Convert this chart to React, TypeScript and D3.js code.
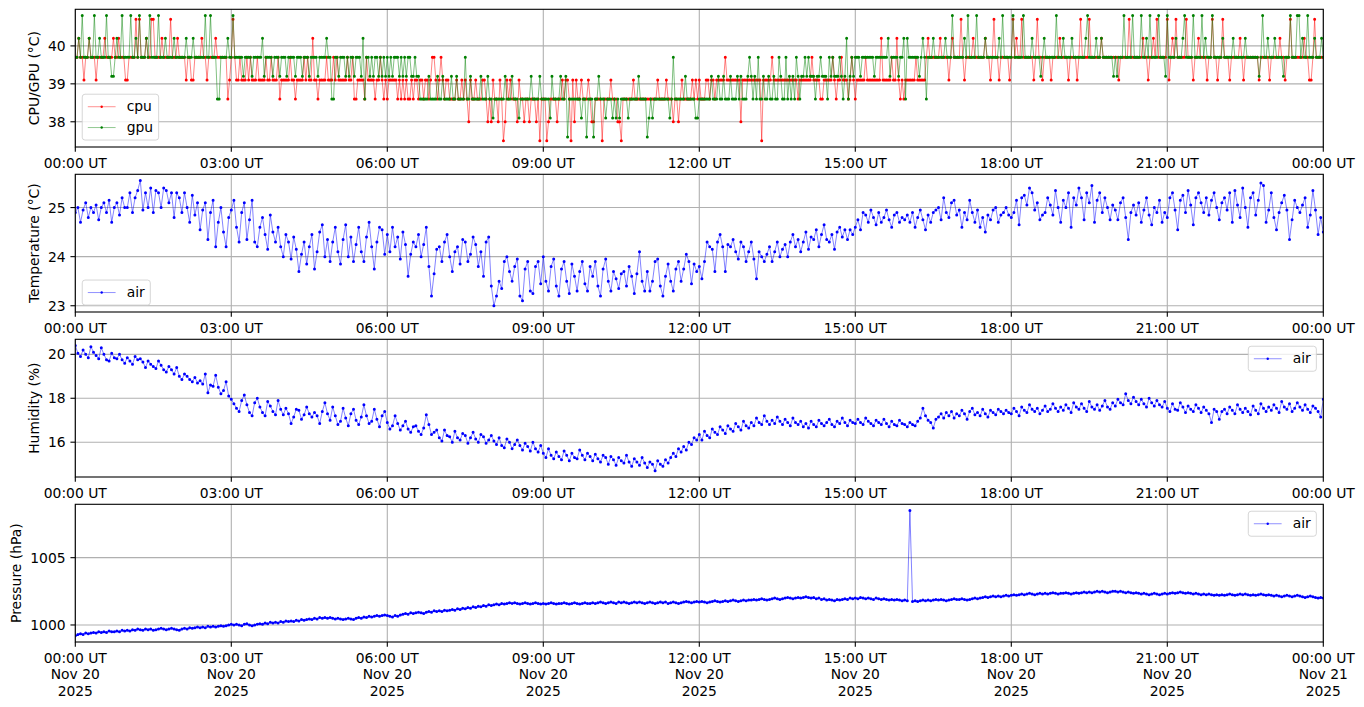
import * as d3 from 'd3';

// ---- data ---------------------------------------------------------------
const DAY_START = Date.UTC(2025, 10, 20);
const DAY_END = Date.UTC(2025, 10, 21);

// quantisation steps of the two sensors as seen on the plot
const cpuLevels = [37.5, 38.0, 38.6, 39.1, 39.7, 40.2, 40.7];
const gpuLevels = [37.6, 38.1, 38.6, 39.2, 39.7, 40.2, 40.8];

// one digit per 2-minute sample (index into the level list), one row per hour
const cpuCodes = [
  '4454434454 4434444544 4454454443',
  '3444464644 4544664444 5444464445',
  '4444344334 4445443444 4544444423',
  '4643343334 3433343333 4334333423',
  '3333433233 3343433533 2333343334',
  '3433333433 4223333243 3332334323',
  '2333332323 2322323323 3233234432',
  '3432332222 3223232132 2322233212',
  '1322132013 2322213221 2212221202',
  '2201222212 2323320313 2232223211',
  '2222022223 2221102222 2232222222',
  '2222223222 2322212212 3222223232',
  '3222332332 3333343333 3333133333',
  '3333330333 3343333333 3333333233',
  '3333343333 2233333432 3343332343',
  '2333334333 3333353333 3433532323',
  '3333343333 3454444445 4444345444',
  '4643444454 4444454434 6443444443',
  '4645446444 4443464434 4443444454',
  '4443444434 6444464444 4454444444',
  '4434444464 4444445443 4454644444',
  '6345464444 4644434454 4443446443',
  '4464443444 4454344444 4443444443',
  '4444454434 4644444445 4433464444',
  '4',
];
const gpuCodes = [
  '4454644454 4644544464 4334544644',
  '4464454644 4546444464 4454444544',
  '4444544454 4444464464 4422444454',
  '4644444344 4434444453 4444344434',
  '4434444344 4344434444 3444454422',
  '4434443434 4344435244 3434434343',
  '4343444343 4344334332 2222322223',
  '2232222322 3222242232 2222322232',
  '2122222232 2232221222 2223222232',
  '2222132222 3223022222 2212202220',
  '2232221222 1212122221 2222232222',
  '0121222222 2221242222 2232222211',
  '2222222322 2322322232 2232322234',
  '3232422322 3223224322 4232324323',
  '3434333233 4333243433 3432352343',
  '4443444444 4344444445 3444434452',
  '5444444345 4244454444 4454446444',
  '4445464444 6444454444 4445464444',
  '4644444644 4454444345 4444446444',
  '5444454444 4445644445 4454444443',
  '4344464444 6444464454 6444464443',
  '6444454445 6444464444 6454446444',
  '4454444454 4444454444 4443464454',
  '4454444344 4644466454 4644454445',
  '4',
];

// 3-minute samples, 20 per hour, plus the 24:00 sample
const airTemp = [
  24.9, 25.0, 24.7, 24.95, 25.1, 24.8, 25.0, 24.9, 25.05, 24.75, 25.0, 25.1, 24.9, 25.15, 24.7, 25.0, 25.1, 24.85, 25.2, 25.0,
  25.0, 25.3, 24.9, 25.2, 25.35, 25.55, 24.95, 25.3, 25.0, 25.4, 24.9, 25.35, 25.3, 25.0, 25.4, 25.35, 25.1, 25.3, 24.8, 25.3,
  25.2, 24.9, 25.3, 25.0, 24.7, 25.25, 24.85, 25.1, 24.55, 24.95, 25.1, 24.35, 24.9, 25.15, 24.2, 24.7, 25.0, 24.5, 24.2, 24.8,
  24.95, 25.15, 24.6, 24.3, 24.9, 25.1, 24.35, 24.75, 25.15, 24.3, 24.2, 24.6, 24.8, 24.45, 24.15, 24.85, 24.5, 24.3, 24.6, 24.2,
  24.0, 24.45, 24.3, 23.95, 24.4, 24.15, 23.7, 24.05, 24.3, 23.85, 24.2, 24.45, 23.75, 24.1, 24.5, 24.65, 24.0, 24.35, 23.9, 24.3,
  24.6, 24.1, 23.85, 24.35, 24.65, 24.0, 24.4, 23.9, 24.25, 24.6, 24.1, 23.9, 24.4, 24.7, 24.2, 23.75, 24.3, 24.6, 24.55, 24.05,
  24.45, 24.1, 24.6, 24.2, 24.4, 23.95, 24.5, 24.25, 23.6, 24.05, 24.3, 24.2, 24.45, 24.0, 24.25, 24.6, 23.8, 23.2, 23.65, 24.15,
  24.2, 23.9, 24.3, 24.45, 24.0, 23.7, 24.1, 24.2, 23.85, 24.35, 24.3, 23.9, 24.05, 24.4, 24.25, 23.8, 24.1, 23.6, 24.3, 24.4,
  23.4, 23.0, 23.2, 23.5, 23.35, 23.9, 24.0, 23.7, 23.5, 23.8, 23.95, 23.2, 23.1, 23.75, 23.9, 23.3, 23.25, 23.8, 23.9, 23.45,
  24.0, 23.5, 23.3, 23.8, 23.95, 23.4, 23.2, 23.75, 23.9, 23.5, 23.25, 23.85, 23.6, 23.3, 23.7, 23.9, 23.45, 23.3, 23.8, 23.6,
  23.9, 23.4, 23.2, 23.75, 23.95, 23.5, 23.3, 23.7, 23.55, 23.35, 23.65, 23.7, 23.4, 23.8, 23.6, 23.25, 23.65, 24.1, 23.5, 23.3,
  23.7, 23.3, 23.5, 23.9, 23.95, 23.4, 23.2, 23.6, 23.85, 23.5, 23.3, 23.75, 23.9, 23.5, 23.75, 24.05, 23.9, 23.45, 23.85, 23.7,
  23.8, 23.55, 23.9, 24.3, 24.2, 24.15, 23.7, 24.3, 24.45, 24.2, 23.7, 24.25, 24.2, 24.35, 24.1, 23.95, 24.3, 24.2, 23.9, 24.1,
  24.3, 23.95, 23.55, 24.1, 24.0, 23.9, 24.05, 24.2, 23.9, 24.1, 24.3, 24.0, 24.15, 24.25, 24.0, 24.3, 24.45, 24.2, 24.35, 24.1,
  24.3, 24.5, 24.15, 24.4, 24.35, 24.55, 24.2, 24.45, 24.65, 24.35, 24.3, 24.45, 24.15, 24.5, 24.6, 24.4, 24.55, 24.35, 24.55, 24.45,
  24.6, 24.75, 24.55, 24.9, 24.85, 24.7, 24.95, 24.8, 24.65, 24.9, 24.7, 24.8, 24.95, 24.75, 24.6, 24.85, 24.9, 24.7, 24.8, 24.75,
  24.85, 24.7, 24.9, 24.6, 24.8, 24.95, 24.75, 24.55, 24.85, 24.7, 24.9, 24.95, 25.0, 24.75, 25.2, 24.9, 24.8, 25.1, 25.15, 24.85,
  24.95, 24.6, 24.9, 24.75, 25.15, 24.9, 24.7, 24.95, 24.6, 24.8, 24.5, 24.85, 24.75, 24.95, 25.0, 24.7, 24.85, 24.9, 25.0, 24.85,
  24.8, 24.9, 25.15, 24.65, 25.2, 25.25, 25.05, 25.4, 25.3, 24.95, 25.1, 24.75, 24.85, 24.9, 25.2, 25.05, 24.85, 25.35, 25.0, 24.7,
  25.15, 25.0, 25.3, 24.6, 25.2, 25.05, 25.4, 25.2, 24.75, 25.3, 25.1, 25.45, 24.7, 25.15, 25.3, 24.9, 25.2, 25.0, 24.75, 25.05,
  24.95, 24.75, 25.1, 25.2, 24.8, 24.35, 24.9, 25.05, 24.85, 25.1, 24.7, 24.95, 25.2, 24.85, 24.65, 25.0, 24.9, 25.15, 24.7, 24.9,
  24.8, 25.2, 25.3, 24.95, 24.55, 25.15, 25.25, 24.9, 25.35, 25.05, 24.65, 25.2, 25.3, 25.1, 24.9, 25.2, 24.85, 25.15, 25.3, 25.0,
  24.75, 25.1, 25.2, 24.95, 25.3, 24.7, 25.35, 25.05, 24.8, 25.4, 25.0, 24.6, 25.2, 25.3, 24.85, 25.15, 25.5, 25.45, 24.7, 24.95,
  25.3, 24.8, 24.55, 24.9, 25.1, 25.25, 24.95, 24.35, 24.75, 25.15, 25.0, 24.9, 25.05, 25.2, 24.6, 24.85, 25.35, 24.95, 24.45, 24.8,
  24.5,
];

const airHumidity = [
  20.4, 20.05, 19.9, 20.2, 20.0, 19.85, 20.35, 20.1, 19.95, 19.8, 20.3, 20.0, 19.75, 19.7, 20.05, 19.85, 19.8, 20.0, 19.75, 19.6,
  19.85, 19.7, 19.55, 19.9, 19.75, 19.8, 19.65, 19.4, 19.7, 19.55, 19.45, 19.35, 19.7, 19.5, 19.3, 19.2, 19.45, 19.3, 19.1, 19.4,
  19.0, 18.85, 19.1, 19.0, 18.85, 18.75, 18.95, 18.7, 18.8, 18.65, 19.1, 18.25, 18.6, 18.55, 19.05, 18.5, 18.2, 18.35, 18.75, 18.1,
  17.95, 17.75, 17.55, 17.4, 17.9, 18.15, 17.7, 17.35, 17.2, 17.8, 18.0, 17.6, 17.35, 17.2, 17.85, 17.65, 17.4, 17.25, 17.9, 17.5,
  17.25, 17.55, 17.3, 16.85, 17.15, 17.5, 17.45, 17.05, 17.25, 17.6, 17.3, 17.15, 17.35, 17.2, 16.85, 17.4, 17.8, 17.3, 17.0, 17.6,
  17.2, 16.8, 16.95, 17.55, 17.1, 16.75, 17.3, 17.5, 17.0, 16.8, 17.15, 17.7, 17.2, 16.85, 16.95, 17.5, 17.05, 16.7, 17.2, 17.4,
  16.9, 16.6, 16.75, 17.2, 16.85, 16.55, 16.75, 16.95, 16.6, 16.45, 16.7, 16.75, 16.5, 16.35, 16.65, 17.25, 16.8, 16.35, 16.45, 16.55,
  16.2, 16.05, 16.55, 16.3, 16.25, 16.0, 16.5, 16.2, 16.1, 16.4, 16.3, 15.95, 16.2, 16.45, 16.15, 16.0, 16.35, 16.25, 15.95, 16.1,
  16.3, 16.05, 15.9, 16.2, 15.85, 15.75, 16.15, 16.0, 15.7, 15.9, 16.1, 15.85, 15.65, 15.95, 15.8, 15.6, 16.0, 15.7, 15.55, 15.85,
  15.5, 15.3, 15.7, 15.4, 15.25, 15.55, 15.35, 15.2, 15.6, 15.4, 15.15, 15.5, 15.3, 15.25, 15.65, 15.4, 15.2, 15.5, 15.35, 15.15,
  15.45, 15.25, 15.1, 15.4, 15.3, 15.0, 15.35, 15.2, 14.95, 15.3, 15.15, 15.05, 15.4, 15.1, 14.9, 15.25, 15.1, 14.95, 15.3, 15.05,
  14.85, 15.1, 15.0, 14.7, 15.15, 15.0, 14.9, 15.2, 15.05, 15.3, 15.5, 15.35, 15.7, 15.55, 15.8, 15.65, 16.0, 15.9, 16.2, 16.1,
  16.35, 16.1, 16.5, 16.3, 16.2, 16.6, 16.45, 16.35, 16.7, 16.55, 16.4, 16.75, 16.6, 16.5, 16.85, 16.7, 16.55, 16.95, 16.75, 16.65,
  16.9, 16.75, 17.1, 16.9, 16.8, 17.2, 16.95, 16.8, 17.0, 16.85, 17.15, 16.95, 16.8, 17.05, 16.9, 16.75, 17.1, 16.9, 16.8, 16.95,
  16.7, 16.85, 16.65, 16.95, 16.8, 16.7, 17.0, 16.85, 16.75, 16.9, 17.05, 16.8, 16.7, 16.95, 16.85, 17.1, 16.9, 16.75, 17.0, 16.9,
  16.85, 17.05, 16.9, 16.8, 17.1, 16.95, 16.85, 16.75, 17.0, 16.9, 16.8, 17.05, 16.85, 16.7, 16.95, 16.8, 16.75, 17.0, 16.85, 16.8,
  16.7, 16.9, 16.8, 16.75, 16.95, 17.1, 17.55, 17.2, 17.0, 16.9, 16.65, 17.05, 17.15, 17.3, 17.1, 17.35, 17.2, 17.4, 17.1, 17.3,
  17.2, 17.45, 17.3, 17.05, 17.4, 17.55, 17.25, 17.35, 17.2, 17.5, 17.3, 17.15, 17.45, 17.35, 17.25, 17.5, 17.4, 17.3, 17.45, 17.35,
  17.3, 17.55, 17.4, 17.2, 17.6, 17.45, 17.35, 17.7, 17.5, 17.4, 17.55, 17.3, 17.45, 17.65, 17.4, 17.5, 17.75, 17.55, 17.4, 17.6,
  17.45, 17.7, 17.55, 17.35, 17.8, 17.6, 17.5, 17.75, 17.55, 17.4, 17.85, 17.6, 17.5, 17.7, 17.45, 17.65, 17.9, 17.6, 17.5, 17.8,
  17.65, 17.95, 17.8, 17.7, 18.2, 17.9, 17.75, 18.05, 17.85, 17.7, 17.95, 17.75, 17.6, 18.0, 17.8, 17.65, 17.9, 17.7, 17.6, 17.85,
  17.55, 17.4, 17.75, 17.5, 17.45, 17.8, 17.6, 17.35, 17.65, 17.5, 17.4, 17.7, 17.55, 17.35, 17.6, 17.45, 17.3, 16.9, 17.5, 17.4,
  17.05, 17.4, 17.5, 17.3, 17.6, 17.45, 17.3, 17.7, 17.5, 17.35, 17.55, 17.4, 17.25, 17.65, 17.45, 17.3, 17.75, 17.55, 17.4, 17.6,
  17.45, 17.7, 17.55, 17.35, 17.85, 17.6, 17.5, 17.75, 17.4, 17.55, 17.8, 17.6, 17.45, 17.7, 17.5, 17.35, 17.65, 17.55, 17.4, 17.15,
  17.95,
];

const airPressure = [
  999.2, 999.3, 999.35, 999.3, 999.4, 999.35, 999.4, 999.45, 999.4, 999.5, 999.45, 999.5, 999.45, 999.55, 999.5, 999.5, 999.55, 999.5, 999.6, 999.55,
  999.6, 999.55, 999.65, 999.6, 999.7, 999.65, 999.6, 999.7, 999.65, 999.7, 999.6, 999.65, 999.7, 999.75, 999.7, 999.65, 999.7, 999.75, 999.7, 999.65,
  999.6, 999.7, 999.75, 999.7, 999.8, 999.75, 999.8, 999.85, 999.8, 999.85, 999.8, 999.9, 999.85, 999.9, 999.85, 999.9, 999.95, 999.9, 999.95, 1000.0,
  1000.05, 1000.0, 1000.05, 1000.0, 999.95, 1000.05, 1000.1, 1000.0, 999.95, 1000.0, 1000.05, 1000.1, 1000.05, 1000.15, 1000.1, 1000.2, 1000.15, 1000.2, 1000.15, 1000.25,
  1000.2, 1000.3, 1000.25, 1000.3, 1000.25, 1000.35, 1000.3, 1000.4, 1000.35, 1000.4, 1000.45, 1000.4, 1000.5, 1000.45, 1000.55, 1000.5, 1000.55, 1000.5, 1000.55, 1000.5,
  1000.45, 1000.5, 1000.45, 1000.4, 1000.45, 1000.5, 1000.45, 1000.4, 1000.5, 1000.55, 1000.5, 1000.6, 1000.55, 1000.65, 1000.6, 1000.65, 1000.7, 1000.65, 1000.7, 1000.75,
  1000.7, 1000.65, 1000.6, 1000.7, 1000.65, 1000.75, 1000.8, 1000.85, 1000.8, 1000.9, 1000.85, 1000.9, 1000.95, 1000.9, 1000.85, 1000.95, 1001.0, 1000.95, 1001.05, 1001.0,
  1001.05, 1001.0, 1001.1, 1001.05, 1001.1, 1001.15, 1001.1, 1001.2, 1001.15, 1001.25, 1001.2, 1001.3, 1001.25, 1001.35, 1001.3, 1001.4, 1001.35, 1001.45, 1001.4, 1001.5,
  1001.45, 1001.5, 1001.55, 1001.5, 1001.6, 1001.55, 1001.6, 1001.65, 1001.6, 1001.65, 1001.6, 1001.55, 1001.6, 1001.65, 1001.6, 1001.55, 1001.6, 1001.65, 1001.6, 1001.55,
  1001.6, 1001.55, 1001.6, 1001.65, 1001.6, 1001.55, 1001.6, 1001.6, 1001.65, 1001.6, 1001.55, 1001.6, 1001.65, 1001.6, 1001.55, 1001.6, 1001.65, 1001.6, 1001.6, 1001.65,
  1001.6, 1001.65, 1001.7, 1001.65, 1001.6, 1001.65, 1001.7, 1001.65, 1001.6, 1001.7, 1001.65, 1001.7, 1001.65, 1001.6, 1001.65, 1001.7, 1001.65, 1001.7, 1001.65, 1001.6,
  1001.65, 1001.7, 1001.65, 1001.6, 1001.65, 1001.7, 1001.65, 1001.7, 1001.6, 1001.65, 1001.7, 1001.65, 1001.6, 1001.65, 1001.7, 1001.75, 1001.7, 1001.65, 1001.7, 1001.75,
  1001.7, 1001.75, 1001.7, 1001.65, 1001.7, 1001.75, 1001.8, 1001.75, 1001.7, 1001.75, 1001.8, 1001.75, 1001.8, 1001.85, 1001.8, 1001.75, 1001.8, 1001.85, 1001.8, 1001.85,
  1001.85, 1001.9, 1001.85, 1001.9, 1001.95, 1001.9, 1001.85, 1001.9, 1001.95, 1002.0, 1001.95, 1001.9, 1001.95, 1002.0, 1002.05, 1002.0, 1001.95, 1002.0, 1002.05, 1002.0,
  1002.05, 1002.1, 1002.05, 1002.0, 1002.05, 1001.95, 1002.0, 1001.9, 1001.95, 1001.85, 1001.9, 1001.85, 1001.8, 1001.9, 1001.85, 1001.9, 1001.95, 1001.9, 1002.0, 1001.95,
  1002.0, 1001.95, 1002.05, 1002.0, 1001.95, 1002.0, 1001.95, 1001.9, 1002.0, 1001.95, 1001.9, 1001.95, 1001.9, 1001.85, 1001.9, 1001.85, 1001.9, 1001.85, 1001.8, 1001.85,
  1001.8, 1008.5, 1001.75, 1001.8, 1001.75, 1001.8, 1001.85, 1001.8, 1001.85, 1001.8, 1001.85, 1001.9, 1001.85, 1001.9, 1001.85, 1001.8, 1001.85, 1001.9, 1001.95, 1001.9,
  1001.9, 1001.95, 1001.9, 1001.85, 1001.9, 1001.95, 1002.0, 1001.95, 1002.0, 1002.05, 1002.1, 1002.05, 1002.1, 1002.15, 1002.1, 1002.15, 1002.1, 1002.15, 1002.2, 1002.15,
  1002.2, 1002.25, 1002.2, 1002.25, 1002.3, 1002.25, 1002.3, 1002.35, 1002.3, 1002.25, 1002.3, 1002.35, 1002.3, 1002.35, 1002.3, 1002.35, 1002.4, 1002.35, 1002.3, 1002.35,
  1002.35, 1002.4, 1002.35, 1002.3, 1002.35, 1002.4, 1002.35, 1002.4, 1002.45, 1002.4, 1002.45, 1002.4, 1002.45, 1002.5, 1002.45, 1002.5, 1002.45, 1002.4, 1002.45, 1002.5,
  1002.5, 1002.45, 1002.5, 1002.45, 1002.4, 1002.45, 1002.4, 1002.35, 1002.4, 1002.35, 1002.3, 1002.35, 1002.3, 1002.25, 1002.3, 1002.35, 1002.3, 1002.25, 1002.3, 1002.35,
  1002.3, 1002.35, 1002.4, 1002.35, 1002.4, 1002.45, 1002.4, 1002.35, 1002.4, 1002.35, 1002.3, 1002.35, 1002.3, 1002.25, 1002.3, 1002.25, 1002.3, 1002.25, 1002.2, 1002.25,
  1002.2, 1002.25, 1002.2, 1002.25, 1002.3, 1002.25, 1002.2, 1002.25, 1002.3, 1002.25, 1002.3, 1002.25, 1002.2, 1002.25, 1002.2, 1002.25, 1002.3, 1002.25, 1002.2, 1002.25,
  1002.2, 1002.15, 1002.2, 1002.15, 1002.1, 1002.15, 1002.2, 1002.15, 1002.1, 1002.15, 1002.2, 1002.15, 1002.1, 1002.05, 1002.1, 1002.15, 1002.1, 1002.05, 1002.0, 1002.05,
  1002.0,
];

const yTicksCpu = [38, 39, 40];
const yTicksTemp = [23, 24, 25];
const yTicksHum = [16, 18, 20];
const yTicksPres = [1000, 1005];

// ---- layout -------------------------------------------------------------
const W = 1364;
const H = 707;
const FS = 13.89; // 10pt at 100 dpi
const FONT = '"DejaVu Sans", "Liberation Sans", sans-serif';
const LEFT = 75.3;
const RIGHT = 1323.3;
const PANEL_H = 137.7;
const TOPS = [9.3, 174.3, 339.3, 504.3];
const TICK = 4.86;
const PAD = 4.86;
const LW = 1.1;
const GRID = '#b0b0b0';
const R = 1.5; // marker radius

let ctx: CanvasRenderingContext2D | null = null;
function textWidth(s: string) {
  if (!ctx) ctx = document.createElement('canvas').getContext('2d');
  if (!ctx) return s.length * FS * 0.62;
  ctx.font = `${FS}px "DejaVu Sans"`;
  return ctx.measureText(s).width;
}

const x = d3.scaleUtc().domain([new Date(DAY_START), new Date(DAY_END)]).range([LEFT, RIGHT]);
const xTicks = d3.utcHour.every(3)!.range(new Date(DAY_START), new Date(DAY_END + 1));
const fmtTime = d3.utcFormat('%H:%M UT');
const fmtDay = d3.utcFormat('%b %d');
const fmtYear = d3.utcFormat('%Y');

type Series = { name: string; color: string; values: number[]; stepMin: number };

const decode = (rows: string[], levels: number[]) =>
  rows.join('').replace(/\s/g, '').split('').map((c) => levels[+c]);

const cpu: Series = { name: 'cpu', color: '#ff0000', values: decode(cpuCodes, cpuLevels), stepMin: 2 };
const gpu: Series = { name: 'gpu', color: '#008000', values: decode(gpuCodes, gpuLevels), stepMin: 2 };
const temp: Series = { name: 'air', color: '#0000ff', values: airTemp, stepMin: 3 };
const hum: Series = { name: 'air', color: '#0000ff', values: airHumidity, stepMin: 3 };
const pres: Series = { name: 'air', color: '#0000ff', values: airPressure, stepMin: 3 };

function markerPath(pts: [number, number][]) {
  return pts
    .map(([px, py]) => `M${px - R},${py}a${R},${R} 0 1,0 ${2 * R},0a${R},${R} 0 1,0 ${-2 * R},0`)
    .join('');
}

function Legend({ entries, loc, top }: { entries: Series[]; loc: string; top: number }) {
  const pad = 0.4 * FS;
  const hl = 2 * FS;
  const htp = 0.8 * FS;
  const ls = 0.5 * FS;
  const bap = 0.5 * FS;
  const tw = Math.max(...entries.map((e) => textWidth(e.name)));
  const w = pad + hl + htp + tw + pad;
  const h = 2 * pad + entries.length * FS + (entries.length - 1) * ls;
  const bottom = top + PANEL_H;
  const x0 = loc === 'lower left' ? LEFT + bap : RIGHT - bap - w;
  const y0 = loc === 'lower left' ? bottom - bap - h : top + bap;
  return (
    <g>
      <rect x={x0} y={y0} width={w} height={h} rx={2.8} fill="#fff" fillOpacity={0.8} stroke="#cccccc" strokeOpacity={0.8} strokeWidth={1} />
      {entries.map((e, i) => {
        const cy = y0 + pad + FS / 2 + i * (FS + ls);
        const lx = x0 + pad;
        return (
          <g key={e.name}>
            <line x1={lx} x2={lx + hl} y1={cy} y2={cy} stroke={e.color} strokeOpacity={0.55} strokeWidth={0.8} />
            <circle cx={lx + hl / 2} cy={cy} r={1.2} fill={e.color} />
            <text x={lx + hl + htp} y={cy + 4.6} fontSize={FS} fontFamily={FONT} fill="#000">
              {e.name}
            </text>
          </g>
        );
      })}
    </g>
  );
}

function Panel({ idx, series, yTicks, yLabel, legendLoc, dateLabels }: {
  idx: number; series: Series[]; yTicks: number[]; yLabel: string; legendLoc: string; dateLabels: boolean;
}) {
  const top = TOPS[idx];
  const bottom = top + PANEL_H;
  const [lo, hi] = d3.extent(series.flatMap((s) => s.values)) as [number, number];
  const m = (hi - lo) * 0.05;
  const y = d3.scaleLinear().domain([lo - m, hi + m]).range([bottom, top]);
  const clipId = `clip${idx}`;
  const tickRight = LEFT - TICK - PAD;
  const labelW = Math.max(...yTicks.map((t) => textWidth(String(t))));
  const yLabelX = tickRight - labelW - 0.4 * FS - 0.24 * FS;

  return (
    <g>
      <clipPath id={clipId}>
        <rect x={LEFT} y={top} width={RIGHT - LEFT} height={PANEL_H} />
      </clipPath>
      {/* grid */}
      {xTicks.map((t) => (
        <line key={+t} x1={x(t)} x2={x(t)} y1={top} y2={bottom} stroke={GRID} strokeWidth={LW} />
      ))}
      {yTicks.map((t) => (
        <line key={t} x1={LEFT} x2={RIGHT} y1={y(t)} y2={y(t)} stroke={GRID} strokeWidth={LW} />
      ))}
      {/* data */}
      <g clipPath={`url(#${clipId})`}>
        {series.map((s) => {
          const pts: [number, number][] = s.values.map((v, i) => [x(DAY_START + i * s.stepMin * 60000), y(v)]);
          const line = d3.line()(pts) ?? '';
          return (
            <g key={s.name}>
              <path d={line} fill="none" stroke={s.color} strokeOpacity={0.55} strokeWidth={0.9} />
              <path d={markerPath(pts)} fill={s.color} stroke="none" />
            </g>
          );
        })}
      </g>
      {/* frame */}
      <rect x={LEFT} y={top} width={RIGHT - LEFT} height={PANEL_H} fill="none" stroke="#000" strokeWidth={LW} />
      {/* x ticks */}
      {xTicks.map((t) => (
        <g key={+t}>
          <line x1={x(t)} x2={x(t)} y1={bottom} y2={bottom + TICK} stroke="#000" strokeWidth={LW} />
          <text x={x(t)} y={bottom + 21} textAnchor="middle" fontSize={FS} fontFamily={FONT}>
            <tspan x={x(t)}>{fmtTime(t)}</tspan>
            {dateLabels && <tspan x={x(t)} dy={16.3}>{fmtDay(t)}</tspan>}
            {dateLabels && <tspan x={x(t)} dy={16.3}>{fmtYear(t)}</tspan>}
          </text>
        </g>
      ))}
      {/* y ticks */}
      {yTicks.map((t) => (
        <g key={t}>
          <line x1={LEFT - TICK} x2={LEFT} y1={y(t)} y2={y(t)} stroke="#000" strokeWidth={LW} />
          <text x={tickRight} y={y(t) + 5.1} textAnchor="end" fontSize={FS} fontFamily={FONT}>
            {t}
          </text>
        </g>
      ))}
      <text
        transform={`translate(${yLabelX},${(top + bottom) / 2}) rotate(-90)`}
        textAnchor="middle"
        fontSize={FS}
        fontFamily={FONT}
      >
        {yLabel}
      </text>
      <Legend entries={series} loc={legendLoc} top={top} />
    </g>
  );
}

export default function App() {
  return (
    <div style={{ position: 'absolute', left: 0, top: 0 }}>
      <svg width={W} height={H} viewBox={`0 0 ${W} ${H}`} style={{ display: 'block', background: '#fff' }}>
        <rect width={W} height={H} fill="#fff" />
        <Panel idx={0} series={[cpu, gpu]} yTicks={yTicksCpu} yLabel="CPU/GPU (°C)" legendLoc="lower left" dateLabels={false} />
        <Panel idx={1} series={[temp]} yTicks={yTicksTemp} yLabel="Temperature (°C)" legendLoc="lower left" dateLabels={false} />
        <Panel idx={2} series={[hum]} yTicks={yTicksHum} yLabel="Humidity (%)" legendLoc="upper right" dateLabels={false} />
        <Panel idx={3} series={[pres]} yTicks={yTicksPres} yLabel="Pressure (hPa)" legendLoc="upper right" dateLabels={true} />
      </svg>
    </div>
  );
}
